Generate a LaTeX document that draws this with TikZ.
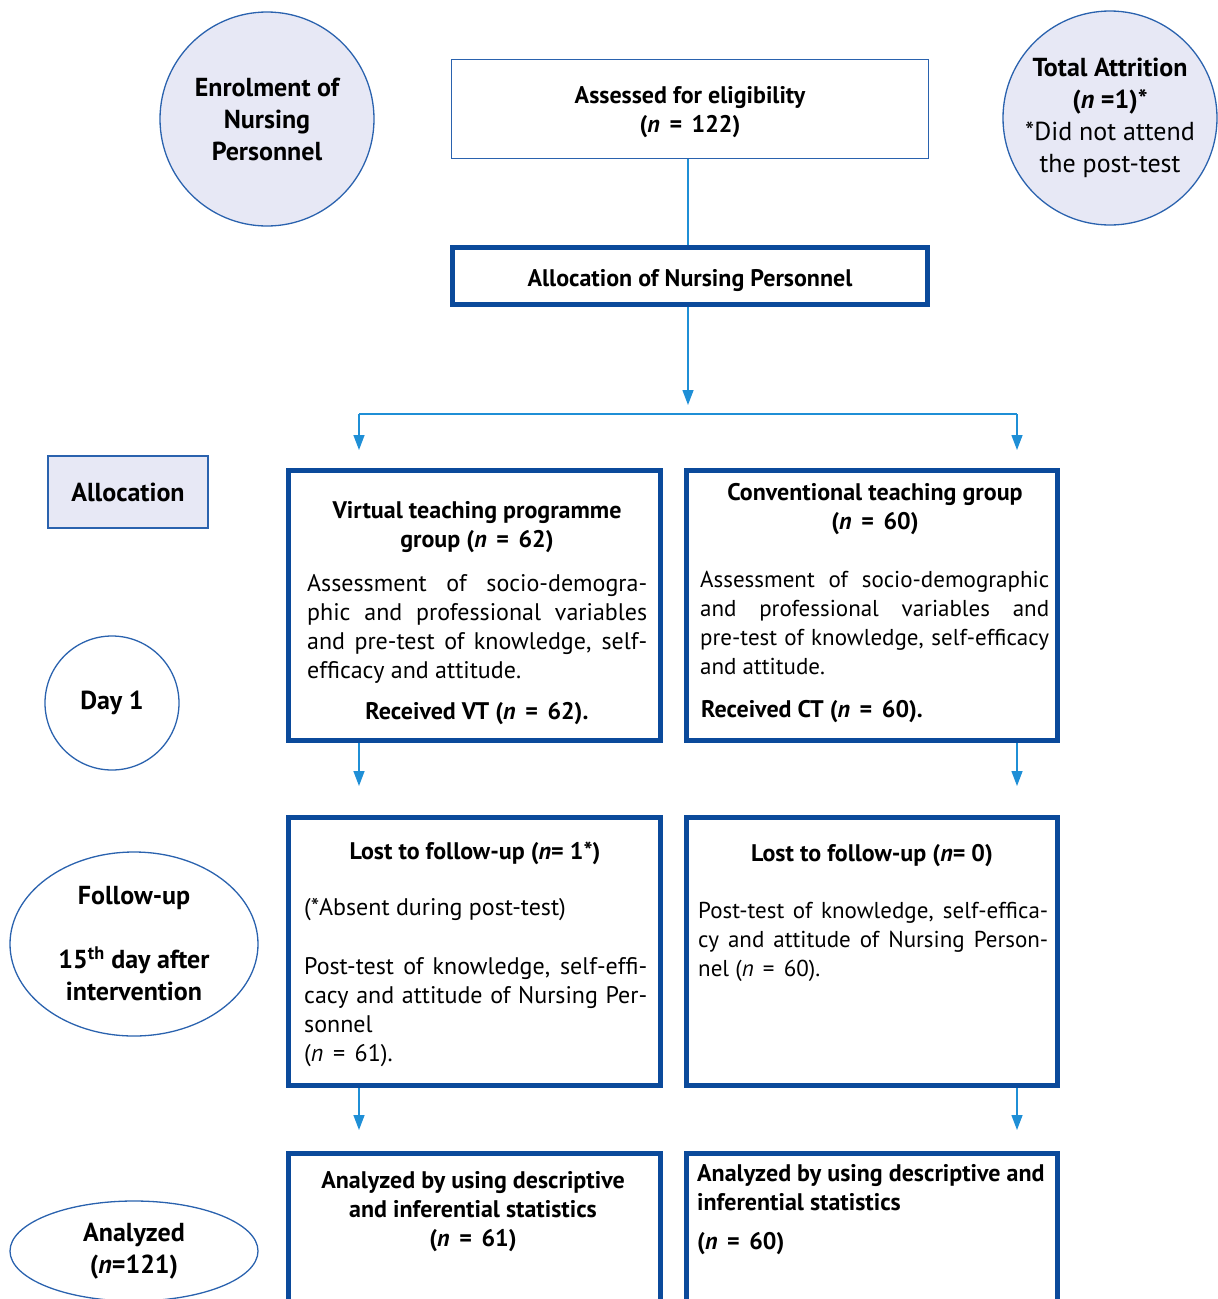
\documentclass[tikz,border=0pt]{standalone}
\usepackage{fontspec}
\setmainfont{PT Sans}
\usetikzlibrary{arrows.meta,positioning,calc,shapes.geometric}

\definecolor{boxblue}{HTML}{0B4A9B}
\definecolor{arrowblue}{HTML}{1F8FD6}
\definecolor{ringblue}{HTML}{2A62AE}
\definecolor{lavender}{HTML}{E7E8F5}

% one justified line of given width
\newcommand{\jline}[2]{\makebox[#1][s]{#2}}
% wide equals sign as in the figure
\newcommand{\weq}{\hspace{0.4em}=\hspace{0.4em}}

\tikzset{
  thickbox/.style={draw=boxblue,line width=5pt,inner sep=0pt},
  thinbox/.style={draw=ringblue,line width=1.3pt,inner sep=0pt},
  phase/.style={draw=ringblue,line width=1.3pt,inner sep=0pt,align=center,
    font=\bfseries\fontsize{26}{32}\selectfont},
  link/.style={draw=arrowblue,line width=1.4pt},
  arr/.style={link,-{Triangle[length=15pt,width=11pt]}},
  head/.style={font=\bfseries\fontsize{24}{29}\selectfont,align=center,inner sep=0pt},
  para/.style={font=\fontsize{24}{29}\selectfont,align=left,inner sep=0pt,anchor=north west},
}

\begin{document}
\begin{tikzpicture}[x=1pt,y=-1pt]
  \useasboundingbox (0,0) rectangle (1218,1299);

  % side labels
  \node[phase,circle,fill=lavender,minimum size=214] (enrol) at (267,119)
    {Enrolment of\\Nursing\\Personnel};
  \node[phase,circle,fill=lavender,minimum size=214] (attr) at (1110,118)
    {Total Attrition\\(\textit{n} =1)*\\\mdseries *Did not attend\\\mdseries the post-test};
  \node[phase,rectangle,fill=lavender,minimum width=160,minimum height=72] (alabel) at (128,492)
    {Allocation};
  \node[phase,circle,minimum size=134] (day) at (112,703) {Day 1};
  \node[phase,ellipse,minimum width=248,minimum height=184] (follow) at (134,944)
    {Follow-up\\[32pt]15\textsuperscript{th} day after\\intervention};
  \node[phase,ellipse,minimum width=248,minimum height=100] (anlabel) at (134,1251)
    {Analyzed\\(\textit{n}=121)};

  % top boxes
  \node[thinbox,minimum width=477,minimum height=99] (assess) at (690,109) {};
  \node[head] at (690,112) {Assessed for eligibility\\(\textit{n}\weq 122)};
  \node[thickbox,minimum width=475,minimum height=57] (alloc) at (690,276) {};
  \node[head] at (690,281) {Allocation of Nursing Personnel};

  % group boxes
  \node[thickbox,minimum width=372,minimum height=270] (vt) at (474.5,605.5) {};
  \node[thickbox,minimum width=371,minimum height=270] (ct) at (872,605.5) {};
  \node[thickbox,minimum width=372,minimum height=268] (vtlost) at (474.5,951.5) {};
  \node[thickbox,minimum width=371,minimum height=268] (ctlost) at (872,951.5) {};
  \node[thickbox,minimum width=372,minimum height=184] (vtan) at (474.5,1245.5) {};
  \node[thickbox,minimum width=371,minimum height=184] (ctan) at (872,1245.5) {};

  % day 1
  \node[head] at (477,527) {Virtual teaching programme\\group (\textit{n}\weq 62)};
  \node[para] at (307,574) {\jline{340pt}{Assessment of socio-demogra-}\\
    \jline{340pt}{phic and professional variables}\\
    \jline{340pt}{and pre-test of knowledge, self-}\\
    efficacy and attitude.};
  \node[head] at (477,714) {Received VT (\textit{n}\weq 62).};
  \node[head] at (875,509) {Conventional teaching group\\(\textit{n}\weq 60)};
  \node[para,font=\fontsize{23}{29}\selectfont] at (700,571) {\jline{349pt}{Assessment of socio-demographic}\\
    \jline{349pt}{and professional variables and}\\
    \jline{349pt}{pre-test of knowledge, self-efficacy}\\
    and attitude.};
  \node[head,anchor=west] at (701,712) {Received CT (\textit{n}\weq 60).};

  % follow-up
  \node[head] at (475,853) {Lost to follow-up (\textit{n}= 1*)};
  \node[para,anchor=west] at (304,910) {(*Absent during post-test)};
  \node[para] at (304,957) {\jline{343pt}{Post-test of knowledge, self-effi-}\\
    \jline{343pt}{cacy and attitude of Nursing Per-}\\
    sonnel\\(\textit{n}\weq 61).};
  \node[head] at (872,856) {Lost to follow-up (\textit{n}= 0)};
  \node[para,font=\fontsize{23}{29}\selectfont] at (698,902) {\jline{350pt}{Post-test of knowledge, self-effica-}\\
    \jline{350pt}{cy and attitude of Nursing Person-}\\
    nel (\textit{n}\weq 60).};

  % analysis
  \node[head] at (473,1212) {Analyzed by using descriptive\\and inferential statistics\\(\textit{n}\weq 61)};
  \node[head,align=left,anchor=north west] at (697,1164)
    {Analyzed by using descriptive and\\inferential statistics\\[10pt](\textit{n}\weq 60)};

  % connectors
  \coordinate (split) at (688,405);
  \coordinate (lsplit) at (359,414);
  \coordinate (rsplit) at (1017,414);
  \coordinate (vtin) at (359,450);
  \coordinate (ctin) at (1017,450);
  \coordinate (vtout) at (359,786);
  \coordinate (ctout) at (1017,786);
  \coordinate (vtfin) at (359,1130);
  \coordinate (ctfin) at (1017,1130);

  \draw[link] (split |- assess.south) -- (split |- alloc.north);
  \draw[arr] (split |- alloc.south) -- (split);
  \draw[link] (lsplit) -- (rsplit);
  \draw[arr] (lsplit) -- (vtin);
  \draw[arr] (rsplit) -- (ctin);
  \draw[arr] (vtout |- vt.south) -- (vtout);
  \draw[arr] (ctout |- ct.south) -- (ctout);
  \draw[arr] (vtfin |- vtlost.south) -- (vtfin);
  \draw[arr] (ctfin |- ctlost.south) -- (ctfin);
\end{tikzpicture}
\end{document}
